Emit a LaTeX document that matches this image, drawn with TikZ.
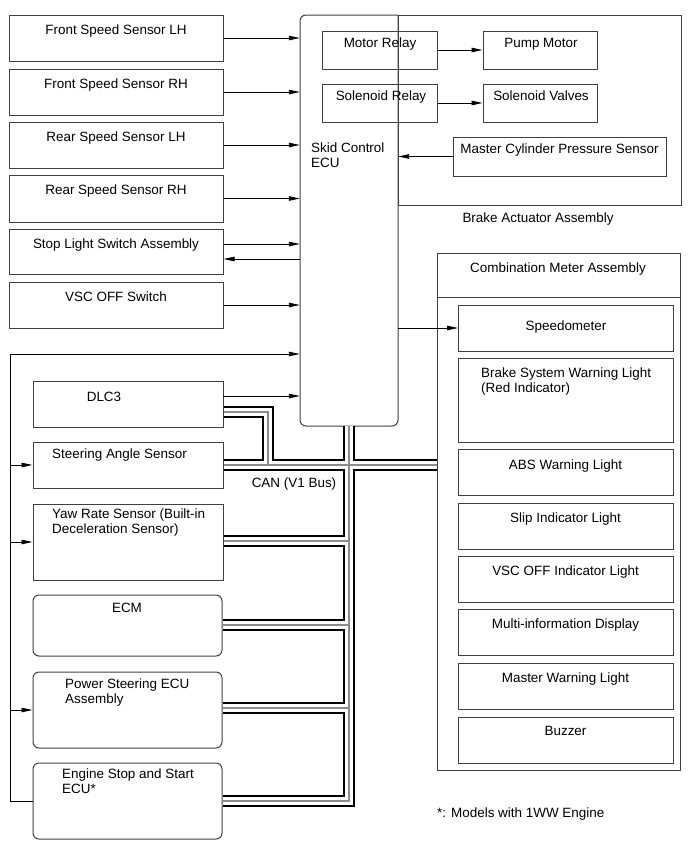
\documentclass[tikz,border=0pt]{standalone}
\usepackage{fontspec}
\setmainfont{Liberation Sans}
\usetikzlibrary{arrows.meta,fit}
\begin{document}
\begin{tikzpicture}[x=1bp,y=-1bp,
  bxs/.style={draw=black!75,line width=1bp,inner sep=0pt,fill=none},
  rbxs/.style={bxs,rounded corners=6bp},
  txt/.style={inner sep=0pt,font=\fontsize{13.5}{15}\selectfont,align=left},
  arr/.style={draw=black,line width=0.9bp,-{Triangle[length=11bp,width=4.5bp]}},
  ln/.style={draw=black,line width=0.9bp},
  busA/.style={draw=black,line width=12bp,line join=miter},
  busB/.style={draw=white,line width=8bp,line join=miter},
  busC/.style={draw=black!45,line width=1.2bp,line join=miter}]
\useasboundingbox (0,0) rectangle (689,853);
\newcommand\bx[6][bxs]{\node[#1,fit={(#3,#4) (#5,#6)}] (#2) {};}
% left sensor boxes
\bx{fsl}{9}{15}{223}{61}
\bx{fsr}{9}{69}{223}{115}
\bx{rsl}{9}{122}{223}{168}
\bx{rsr}{9}{175}{223}{222}
\bx{sls}{9}{229}{223}{274}
\bx{vsc}{9}{282}{223}{328}
\node[txt,anchor=base] (fsl-t) at (116,34) {Front Speed Sensor LH};
\node[txt,anchor=base] (fsr-t) at (116,88) {Front Speed Sensor RH};
\node[txt,anchor=base] (rsl-t) at (116,141) {Rear Speed Sensor LH};
\node[txt,anchor=base] (rsr-t) at (116,194) {Rear Speed Sensor RH};
\node[txt,anchor=base] (sls-t) at (116,248) {Stop Light Switch Assembly};
\node[txt,anchor=base] (vsc-t) at (116,301) {VSC OFF Switch};
% skid control ECU and brake actuator
\node[inner sep=0pt,fit={(300,15) (398,426)}] (ecu) {};
\draw[draw=black!75,line width=1bp,rounded corners=6bp] (398,15) -- (300,15) -- (300,426) -- (398,426) -- (398,15);
\bx{act}{398}{15}{681}{205}
\node[txt,anchor=north west] (ecu-t) at (311,142.2) {Skid Control\\ECU};
\node[txt,anchor=base] (act-t) at (538,222) {Brake Actuator Assembly};
\bx{mr}{322}{31}{437}{69}
\bx{pm}{483}{31}{597}{69}
\bx{sr}{322}{84}{437}{122}
\bx{sv}{483}{84}{597}{122}
\bx{mc}{453}{137}{666}{176}
\node[txt,anchor=base] (mr-t) at (380,47) {Motor Relay};
\node[txt,anchor=base] (pm-t) at (541,47) {Pump Motor};
\node[txt,anchor=base] (sr-t) at (381,100) {Solenoid Relay};
\node[txt,anchor=base] (sv-t) at (541,100) {Solenoid Valves};
\node[txt,anchor=base] (mc-t) at (559.5,153) {Master Cylinder Pressure Sensor};
\draw[arr] (mr.east) -- (pm.west);
\draw[arr] (sr.east) -- (sv.west);
\draw[arr] (mc.west) -- (mc.west -| ecu.east);
% sensor arrows
\draw[arr] (fsl.east) -- (fsl.east -| ecu.west);
\draw[arr] (fsr.east) -- (fsr.east -| ecu.west);
\draw[arr] (rsl.east) -- (rsl.east -| ecu.west);
\draw[arr] (rsr.east) -- (rsr.east -| ecu.west);
\draw[arr] ([yshift=7.5bp]sls.east) -- ([yshift=7.5bp]sls.east -| ecu.west);
\draw[arr] ([yshift=-7.5bp]sls.east -| ecu.west) -- ([yshift=-7.5bp]sls.east);
\draw[arr] (vsc.east) -- (vsc.east -| ecu.west);
% combination meter
\bx{cm}{437}{253}{680}{770}
\coordinate (cmd) at (437,297);
\draw[draw=black!75,line width=1bp] (cmd) -- (cmd -| cm.east);
\node[txt,anchor=base] (cm-t) at (558,272) {Combination Meter Assembly};
\bx{spd}{458.5}{305}{673}{351}
\bx{bsw}{458.5}{358}{673}{442}
\bx{abs}{458.5}{449}{673}{495}
\bx{slip}{458.5}{503}{673}{549}
\bx{vsci}{458.5}{556}{673}{602}
\bx{mid}{458.5}{609}{673}{655}
\bx{mwl}{458.5}{663}{673}{709}
\bx{buz}{458.5}{717}{673}{763}
\node[txt,anchor=base] (spd-t) at (566,330) {Speedometer};
\node[txt,anchor=north west] (bsw-t) at (481,367.2) {Brake System Warning Light\\(Red Indicator)};
\node[txt,anchor=base] (abs-t) at (565.5,469) {ABS Warning Light};
\node[txt,anchor=base] (slip-t) at (565.5,522) {Slip Indicator Light};
\node[txt,anchor=base] (vsci-t) at (565.5,575) {VSC OFF Indicator Light};
\node[txt,anchor=base] (mid-t) at (565.5,628) {Multi-information Display};
\node[txt,anchor=base] (mwl-t) at (565.5,682) {Master Warning Light};
\node[txt,anchor=base] (buz-t) at (565.5,735) {Buzzer};
\draw[arr] (spd.west -| ecu.east) -- (spd.west);
\node[txt,anchor=base west] (note) at (437,817) {*: Models with 1WW Engine};
% lower left group
\bx{dlc}{33}{381}{223}{427}
\bx{sas}{33}{442}{223}{488}
\bx{yaw}{33}{504}{223}{580}
\bx[rbxs]{ecm}{33}{595}{222}{656}
\bx[rbxs]{pse}{33}{672}{222}{748}
\bx[rbxs]{ess}{33}{763}{222}{839}
\node[txt,anchor=base] (dlc-t) at (104,401) {DLC3};
\node[txt,anchor=base west] (sas-t) at (52,458) {Steering Angle Sensor};
\node[txt,anchor=north west] (yaw-t) at (52,508.2) {Yaw Rate Sensor (Built-in\\Deceleration Sensor)};
\node[txt,anchor=base] (ecm-t) at (127,612) {ECM};
\node[txt,anchor=north west] (pse-t) at (65,678.2) {Power Steering ECU\\Assembly};
\node[txt,anchor=north west] (ess-t) at (62,768.2) {Engine Stop and Start\\ECU*};
\coordinate (dla) at (223,396);
\draw[arr] (dla) -- (dla -| ecu.west);
% loop line
\coordinate (lpc) at (10,354);
\draw[ln] (ess.west) -| (lpc);
\draw[arr] (lpc) -- (lpc -| ecu.west);
\draw[arr] (sas.west -| lpc) -- (sas.west);
\draw[arr] (yaw.west -| lpc) -- (yaw.west);
\draw[arr] (pse.west -| lpc) -- (pse.west);
% CAN bus
\coordinate (dj) at (268,412);
\coordinate (bh) at (349,465);
\coordinate (bl) at (349,801);
\foreach \st in {busA,busB,busC}{
  \draw[\st] (dj -| dlc.east) -- (dj) -- (dj |- bh);
  \draw[\st] (bh -| sas.east) -- (bh -| cm.west);
  \draw[\st] (bh |- ecu.south) -- (bl) -- (bl -| ess.east);
  \draw[\st] (yaw.east |- 0,541) -- (bh |- 0,541);
  \draw[\st] (ecm.east |- 0,625) -- (bh |- 0,625);
  \draw[\st] (pse.east |- 0,708) -- (bh |- 0,708);
}
\node[txt,anchor=base] (can-t) at (294,487) {CAN (V1 Bus)};
\end{tikzpicture}
\end{document}
